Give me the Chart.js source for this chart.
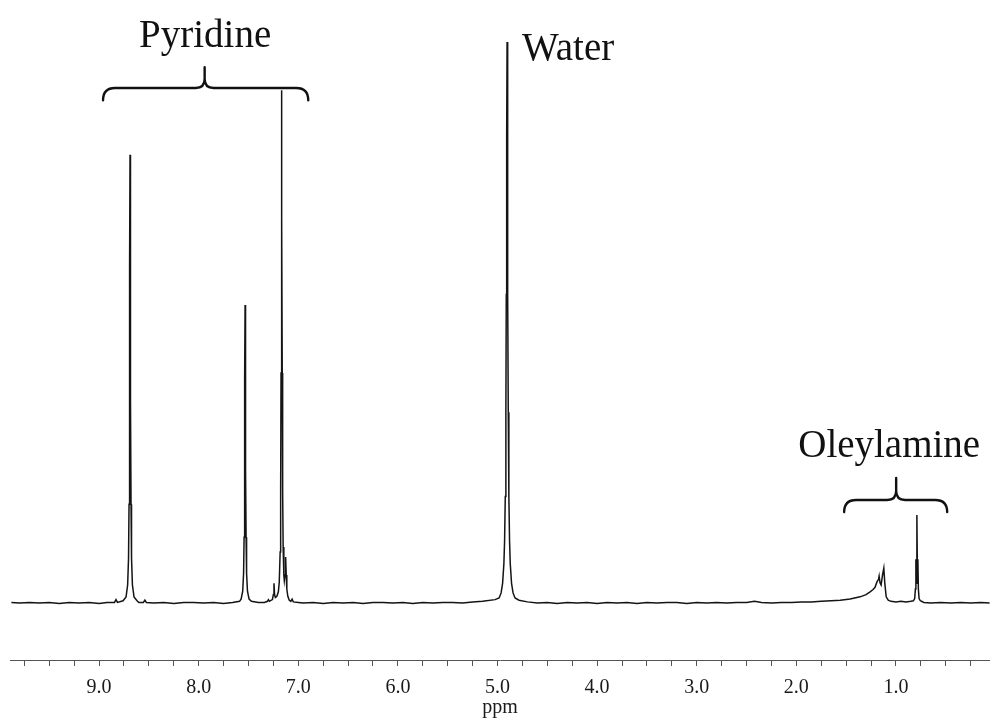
<!DOCTYPE html>
<html><head><meta charset="utf-8">
<script src="https://cdn.jsdelivr.net/npm/chart.js@4.4.1/dist/chart.umd.min.js"></script>
<style>html,body{margin:0;padding:0;background:#fff;}canvas{display:block;}</style>
</head><body>
<canvas id="c" width="990" height="718"></canvas>
<script>
// chemical shift (ppm), read left to right from the spectrum
const shiftPpm = [
  9.88, 9.80, 9.70, 9.60, 9.50, 9.40, 9.30, 9.20, 9.10, 9.00, 8.92, 8.845, 8.83, 8.815,
  8.759, 8.729, 8.713, 8.704, 8.699, 8.695, 8.692, 8.689, 8.686, 8.683, 8.679, 8.674, 8.665, 8.649, 8.619, 8.60,
  8.555, 8.54, 8.525, 8.45, 8.35, 8.25, 8.15, 8.05, 7.95, 7.85, 7.75, 7.66, 7.59,
  7.574, 7.558, 7.549, 7.544, 7.540, 7.537, 7.534, 7.531, 7.528, 7.524, 7.519, 7.510, 7.494, 7.47, 7.40, 7.34,
  7.31, 7.30, 7.29, 7.26, 7.25, 7.244, 7.238, 7.23, 7.215, 7.20, 7.191, 7.182, 7.177, 7.173, 7.170,
  7.167, 7.164, 7.161, 7.157, 7.152, 7.145, 7.14, 7.133, 7.129, 7.125, 7.121, 7.115, 7.105, 7.09, 7.075,
  7.062, 7.05, 7.00, 6.95, 6.85, 6.75, 6.65, 6.55, 6.45, 6.35, 6.25, 6.15, 6.05, 5.95, 5.85, 5.75,
  5.65, 5.55, 5.45, 5.35, 5.25, 5.15,
  5.024, 4.984, 4.964, 4.949, 4.936, 4.929, 4.922, 4.916, 4.912, 4.908, 4.904, 4.900, 4.896, 4.892,
  4.886, 4.879, 4.872, 4.859, 4.844, 4.824, 4.784, 4.70, 4.60, 4.50, 4.40, 4.30, 4.20, 4.10, 4.00,
  3.90, 3.80, 3.70, 3.60, 3.50, 3.40, 3.30, 3.20, 3.10, 3.00, 2.90, 2.80, 2.70, 2.60, 2.50, 2.42,
  2.35, 2.25, 2.15, 2.05, 1.95, 1.85, 1.75, 1.65, 1.56, 1.46, 1.36, 1.30, 1.26, 1.23, 1.21, 1.19,
  1.175, 1.169, 1.160, 1.149, 1.135, 1.122, 1.112, 1.098, 1.078, 1.05, 1.00, 0.95, 0.90, 0.85,
  0.825, 0.812, 0.805, 0.800, 0.796, 0.790, 0.784, 0.780, 0.775, 0.768, 0.755, 0.72, 0.65, 0.55,
  0.45, 0.35, 0.25, 0.15, 0.06
];
// signal intensity (water peak = 1)
const intensity = [
  0.001, 0.000, 0.001, 0.000, 0.001, -0.001, 0.001, 0.000, 0.001, -0.001, 0.001, 0.001, 0.006, 0.001,
  0.004, 0.011, 0.032, 0.08, 0.176, 0.36, 0.6, 0.799, 0.6, 0.36, 0.176, 0.08, 0.032, 0.011, 0.004, 0.001,
  0.001, 0.005, 0.001, 0.000, 0.001, -0.001, 0.001, 0.001, 0.000, 0.001, -0.001, 0.001, 0.003,
  0.007, 0.021, 0.053, 0.117, 0.24, 0.40, 0.531, 0.40, 0.24, 0.117, 0.053, 0.021, 0.007, 0.003, 0.001, 0.001,
  0.003, 0.006, 0.003, 0.006, 0.015, 0.035, 0.015, 0.010, 0.012, 0.02, 0.037, 0.091, 0.2, 0.41, 0.69,
  0.914, 0.69, 0.41, 0.2, 0.1, 0.05, 0.04, 0.05, 0.065, 0.082, 0.05, 0.025, 0.012, 0.005, 0.003,
  0.007, 0.002, 0.001, 0.000, 0.001, -0.001, 0.001, 0.000, 0.001, -0.001, 0.001, 0.001, 0.000, 0.001, -0.001, 0.001,
  0.000, 0.001, 0.001, 0.000, 0.002, 0.003,
  0.006, 0.009, 0.018, 0.035, 0.07, 0.11, 0.19, 0.34, 0.55, 0.83, 1.0, 0.83, 0.55, 0.34,
  0.19, 0.11, 0.07, 0.035, 0.018, 0.009, 0.005, 0.002, 0.000, 0.001, -0.001, 0.001, 0.000, 0.001, -0.001,
  0.001, 0.000, 0.001, -0.001, 0.001, 0.000, 0.001, 0.001, -0.001, 0.001, 0.000, 0.001, 0.000, 0.001, 0.001, 0.003,
  0.001, 0.000, 0.001, 0.001, 0.002, 0.002, 0.003, 0.004, 0.005, 0.007, 0.011, 0.015, 0.02, 0.024, 0.028, 0.038,
  0.042, 0.048, 0.036, 0.032, 0.05, 0.062, 0.035, 0.011, 0.005, 0.003, 0.002, 0.003, 0.002, 0.003,
  0.004, 0.008, 0.025, 0.078, 0.035, 0.157, 0.035, 0.078, 0.025, 0.008, 0.004, 0.001, 0.000, 0.001,
  0.000, 0.001, 0.000, 0.001, 0.000
];
const tickLabels = ['9.0', '8.0', '7.0', '6.0', '5.0', '4.0', '3.0', '2.0', '1.0'];
const groupNames = ['Pyridine', 'Water', 'Oleylamine'];
const axisTitle = 'ppm';

const annotationCfg = {
  brackets: [
    { from: 8.96, to: 6.90, mid: 7.94, bar: 0.918, tip: 0.955, ends: 0.896 },
    { from: 1.52, to: 0.486, mid: 0.998, bar: 0.1836, tip: 0.2228, ends: 0.1622 }
  ],
  labels: [
    { text: groupNames[0], x: 7.935, y: 0.991, align: 'center' },
    { text: groupNames[1], x: 4.753, y: 0.968, align: 'left' },
    { text: groupNames[2], x: 1.068, y: 0.260, align: 'center' }
  ]
};

const annotationPlugin = {
  id: 'nmrAnnotations',
  afterDatasetsDraw(chart) {
    const { ctx, scales: { x, y } } = chart;
    ctx.save();
    ctx.strokeStyle = '#111';
    ctx.lineWidth = 2.4;
    ctx.lineCap = 'round';
    ctx.lineJoin = 'round';
    annotationCfg.brackets.forEach(b => {
      const x1 = x.getPixelForValue(b.from), x2 = x.getPixelForValue(b.to), xc = x.getPixelForValue(b.mid);
      const yb = y.getPixelForValue(b.bar), yt = y.getPixelForValue(b.tip), ye = y.getPixelForValue(b.ends);
      const r = 12, rc = 9;
      ctx.beginPath();
      ctx.moveTo(x1, ye);
      ctx.quadraticCurveTo(x1, yb, x1 + r, yb);
      ctx.lineTo(xc - rc, yb);
      ctx.quadraticCurveTo(xc, yb, xc, yb - rc);
      ctx.lineTo(xc, yt);
      ctx.moveTo(xc, yb - rc);
      ctx.quadraticCurveTo(xc, yb, xc + rc, yb);
      ctx.lineTo(x2 - r, yb);
      ctx.quadraticCurveTo(x2, yb, x2, ye);
      ctx.stroke();
    });
    ctx.fillStyle = '#111';
    ctx.font = '39px "Liberation Serif", "Times New Roman", serif';
    ctx.textBaseline = 'alphabetic';
    annotationCfg.labels.forEach(l => {
      ctx.textAlign = l.align;
      ctx.fillText(l.text, x.getPixelForValue(l.x), y.getPixelForValue(l.y));
    });
    ctx.restore();
  }
};

new Chart(document.getElementById('c'), {
  type: 'line',
  data: {
    datasets: [{
      data: shiftPpm.map((v, i) => ({ x: v, y: intensity[i] })),
      borderColor: '#141414',
      borderWidth: 1.5,
      pointRadius: 0,
      tension: 0,
      fill: false
    }]
  },
  options: {
    responsive: false,
    devicePixelRatio: 1,
    animation: false,
    layout: { padding: { left: 10, right: 0, top: 0, bottom: 0 } },
    plugins: { legend: { display: false }, tooltip: { enabled: false } },
    scales: {
      x: {
        type: 'linear',
        reverse: true,
        min: 0.056,
        max: 9.894,
        afterBuildTicks: (scale) => {
          scale.ticks = scale.ticks.filter(t => Math.abs(t.value * 4 - Math.round(t.value * 4)) < 1e-6);
        },
        ticks: {
          stepSize: 0.25,
          includeBounds: false,
          autoSkip: false,
          maxRotation: 0,
          minRotation: 0,
          padding: 16,
          color: '#1a1a1a',
          font: { family: '"Liberation Serif", serif', size: 20, lineHeight: 0.6 },
          callback: (v) => {
            const s = Number(v).toFixed(1);
            return (Math.abs(v - Math.round(v)) < 1e-6 && tickLabels.includes(s)) ? s : '';
          }
        },
        grid: { display: true, drawOnChartArea: false, drawTicks: true, tickLength: 6, tickColor: '#555', tickWidth: 1 },
        border: { display: true, color: '#555', width: 1 },
        title: {
          display: true, text: axisTitle, color: '#1a1a1a',
          font: { family: '"Liberation Serif", serif', size: 20, lineHeight: 0.1 },
          padding: { top: -3.5, bottom: 9.5 }
        }
      },
      y: { display: false, min: -0.1016, max: 1.0749 }
    }
  },
  plugins: [annotationPlugin]
});
</script>
</body></html>
